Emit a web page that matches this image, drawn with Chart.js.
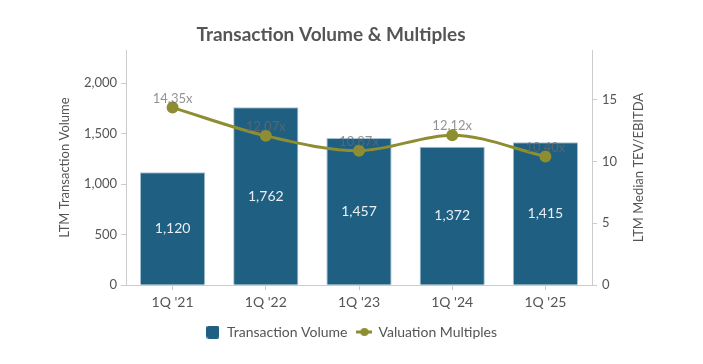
<!DOCTYPE html>
<html>
<head>
<meta charset="utf-8">
<script src="https://cdn.jsdelivr.net/npm/chart.js@4/dist/chart.umd.min.js"></script>
<style>
  html, body { margin: 0; padding: 0; background: #fff; }
  #wrap { width: 703px; height: 364px; }
</style>
</head>
<body>
<div id="wrap"><canvas id="c" width="703" height="364"></canvas></div>
<script>
const categories = ["1Q '21", "1Q '22", "1Q '23", "1Q '24", "1Q '25"];
const transactionVolume = [1120, 1762, 1457, 1372, 1415];
const valuationMultiples = [14.35, 12.07, 10.87, 12.12, 10.40];
const leftTicks = [0, 500, 1000, 1500, 2000];
const rightTicks = [0, 5, 10, 15];

const BAR_COLOR = '#1f5f82';
const LINE_COLOR = '#8e8d32';
const TEXT_COLOR = '#555555';
const AXIS_COLOR = '#cccccc';
const FONT = 'Lato';

function makeBarIcon() {
  const c = document.createElement('canvas');
  c.width = 13; c.height = 13;
  const x = c.getContext('2d');
  x.fillStyle = BAR_COLOR;
  x.beginPath();
  x.roundRect(0, 0, 13, 13, 2.5);
  x.fill();
  return c;
}
function makeLineIcon() {
  const c = document.createElement('canvas');
  c.width = 16; c.height = 10;
  const x = c.getContext('2d');
  x.strokeStyle = LINE_COLOR;
  x.lineWidth = 3;
  x.beginPath(); x.moveTo(0, 5); x.lineTo(16, 5); x.stroke();
  x.fillStyle = LINE_COLOR;
  x.beginPath(); x.arc(8, 5, 4, 0, Math.PI * 2); x.fill();
  return c;
}

const textPlugin = {
  id: 'texts',
  afterDatasetsDraw(chart) {
    const ctx = chart.ctx;
    ctx.save();
    const barMeta = chart.getDatasetMeta(0);
    ctx.font = '14px ' + FONT;
    ctx.fillStyle = '#e8eef3';
    ctx.textAlign = 'center';
    ctx.textBaseline = 'middle';
    barMeta.data.forEach((el, i) => {
      const v = transactionVolume[i];
      ctx.fillText(v.toLocaleString('en-US'), el.x, (el.y + el.base) / 2);
    });
    const lineMeta = chart.getDatasetMeta(1);
    ctx.font = '13px ' + FONT;
    ctx.fillStyle = 'rgba(105,105,105,0.72)';
    lineMeta.data.forEach((el, i) => {
      ctx.fillText(valuationMultiples[i].toFixed(2) + 'x', el.x, el.y - 9);
    });
    ctx.restore();
  },
  afterDraw(chart) {
    const ctx = chart.ctx;
    ctx.save();
    ctx.fillStyle = TEXT_COLOR;
    ctx.textAlign = 'center';
    ctx.textBaseline = 'middle';
    ctx.font = 'bold 19px ' + FONT;
    ctx.fillText('Transaction Volume & Multiples', 331, 35);
    const ca = chart.chartArea;
    const cy = (ca.top + ca.bottom) / 2;
    ctx.font = '13px ' + FONT;
    ctx.save();
    ctx.translate(65, cy);
    ctx.rotate(-Math.PI / 2);
    ctx.fillText('LTM Transaction Volume', 0, 0);
    ctx.restore();
    ctx.save();
    ctx.translate(639, cy);
    ctx.rotate(-Math.PI / 2);
    ctx.fillText('LTM Median TEV/EBITDA', 0, 0);
    ctx.restore();
    ctx.restore();
  }
};

const barIcon = makeBarIcon();
const lineIcon = makeLineIcon();

new Chart(document.getElementById('c'), {
  type: 'bar',
  data: {
    labels: categories,
    datasets: [
      {
        type: 'bar',
        label: 'Transaction Volume',
        data: transactionVolume,
        backgroundColor: BAR_COLOR,
        borderColor: '#a4c2d4',
        borderWidth: 1,
        barPercentage: 0.7,
        categoryPercentage: 1.0,
        yAxisID: 'y',
        order: 2
      },
      {
        type: 'line',
        label: 'Valuation Multiples',
        data: valuationMultiples,
        borderColor: LINE_COLOR,
        backgroundColor: LINE_COLOR,
        borderWidth: 3,
        pointRadius: 4.5,
        pointHoverRadius: 4.5,
        cubicInterpolationMode: 'monotone',
        yAxisID: 'y1',
        order: 1
      }
    ]
  },
  options: {
    responsive: false,
    animation: false,
    devicePixelRatio: 1,
    layout: { padding: { top: 50, left: 0, right: 0, bottom: 15 } },
    plugins: {
      title: { display: false },
      tooltip: { enabled: false },
      legend: {
        position: 'bottom',
        labels: {
          usePointStyle: true,
          boxHeight: 13,
          padding: 10,
          color: TEXT_COLOR,
          font: { family: FONT, size: 14 },
          generateLabels(chart) {
            return [
              { text: 'Transaction Volume', pointStyle: barIcon, fillStyle: BAR_COLOR, strokeStyle: BAR_COLOR, lineWidth: 0, datasetIndex: 0, fontColor: TEXT_COLOR },
              { text: 'Valuation Multiples', pointStyle: lineIcon, fillStyle: LINE_COLOR, strokeStyle: LINE_COLOR, lineWidth: 0, datasetIndex: 1, fontColor: TEXT_COLOR }
            ];
          }
        }
      }
    },
    scales: {
      x: {
        grid: { display: true, drawOnChartArea: false, offset: false, tickLength: 5, color: AXIS_COLOR },
        border: { color: AXIS_COLOR },
        ticks: { color: TEXT_COLOR, font: { family: FONT, size: 14 }, padding: 4, maxRotation: 0 }
      },
      y: {
        position: 'left',
        min: 0,
        max: 2330,
        afterBuildTicks(scale) { scale.ticks = leftTicks.map(v => ({ value: v })); },
        afterFit(scale) { scale.width = 126; },
        grid: { display: true, drawOnChartArea: false, tickLength: 5, color: AXIS_COLOR },
        border: { color: AXIS_COLOR },
        ticks: {
          color: TEXT_COLOR, font: { family: FONT, size: 13 }, padding: 4,
          callback: v => v.toLocaleString('en-US')
        }
      },
      y1: {
        position: 'right',
        min: 0,
        max: 19,
        afterBuildTicks(scale) { scale.ticks = rightTicks.map(v => ({ value: v })); },
        afterFit(scale) { scale.width = 111; },
        grid: { display: true, drawOnChartArea: false, tickLength: 5, color: AXIS_COLOR },
        border: { color: AXIS_COLOR },
        ticks: { color: TEXT_COLOR, font: { family: FONT, size: 13 }, padding: 5 }
      }
    }
  },
  plugins: [textPlugin]
});
</script>
</body>
</html>
